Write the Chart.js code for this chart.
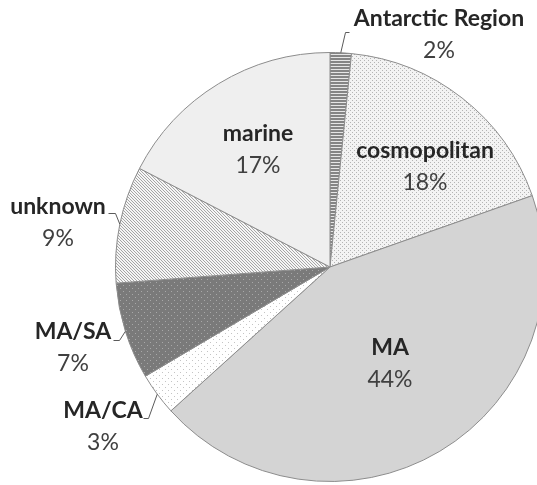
<!DOCTYPE html>
<html>
<head>
<meta charset="utf-8">
<script src="https://cdn.jsdelivr.net/npm/chart.js@4"></script>
<style>
  html, body { margin: 0; padding: 0; background: #fff; overflow: hidden; }
  #wrap { width: 537px; height: 485px; overflow: hidden; }
</style>
</head>
<body>
<div id="wrap"><canvas id="pie" width="560" height="485"></canvas></div>
<script>
// slices, clockwise from 12 o'clock
const categories = ["Antarctic Region", "cosmopolitan", "MA", "MA/CA", "MA/SA", "unknown", "marine"]
const shares = [1.6, 18.0, 43.7, 3.2, 7.3, 8.8, 17.4]

// where each label sits (text centre x, name baseline y) and whether it needs a leader line
const labelSpots = [
  { x: 439, y: 26, leader: [[345, 32], [349, 32]] },
  { x: 425, y: 158 },
  { x: 390, y: 355 },
  { x: 103, y: 418, leader: [[148, 418], [143, 418]] },
  { x: 73, y: 339, leader: [[119, 340], [113, 340]] },
  { x: 58, y: 214, leader: [[115, 213], [108, 213]] },
  { x: 258, y: 141 },
]

function makePattern(size, draw) {
  const c = document.createElement("canvas")
  c.width = size
  c.height = size
  const g = c.getContext("2d")
  draw(g, size)
  return c.getContext("2d").createPattern(c, "repeat")
}

const ctx = document.getElementById("pie").getContext("2d")

const fills = [
  // horizontal stripes
  makePattern(3, (g) => {
    g.fillStyle = "#e6e6e6"
    g.fillRect(0, 0, 3, 3)
    g.fillStyle = "#858585"
    g.fillRect(0, 1, 3, 2)
  }),
  // light dots
  makePattern(4, (g) => {
    g.fillStyle = "#f3f3f3"
    g.fillRect(0, 0, 4, 4)
    g.fillStyle = "#b4b4b4"
    g.fillRect(0, 0, 1, 1)
    g.fillRect(2, 2, 1, 1)
  }),
  "#d4d4d4",
  // sparse dots on white
  makePattern(6, (g) => {
    g.fillStyle = "#ffffff"
    g.fillRect(0, 0, 6, 6)
    g.fillStyle = "#c4c4c4"
    g.fillRect(0, 0, 1, 1)
    g.fillRect(3, 3, 1, 1)
  }),
  // dark with light dots
  makePattern(6, (g) => {
    g.fillStyle = "#7a7a7a"
    g.fillRect(0, 0, 6, 6)
    g.fillStyle = "#a8a8a8"
    g.fillRect(0, 0, 1, 1)
    g.fillRect(3, 3, 1, 1)
  }),
  // diagonal hatch
  makePattern(3, (g) => {
    g.fillStyle = "#f6f6f6"
    g.fillRect(0, 0, 3, 3)
    g.fillStyle = "#a6a6a6"
    for (let i = 0; i < 3; i++) g.fillRect(i, i, 1, 1)
  }),
  "#efefef",
]

const labelPlugin = {
  id: "pieLabels",
  afterDraw(chart) {
    const c = chart.ctx
    const arcs = chart.getDatasetMeta(0).data
    c.save()
    c.textAlign = "center"
    c.textBaseline = "alphabetic"
    categories.forEach((name, i) => {
      const spot = labelSpots[i]
      if (spot.leader) {
        const a = arcs[i]
        const mid = (a.startAngle + a.endAngle) / 2
        const px = a.x + Math.cos(mid) * a.outerRadius
        const py = a.y + Math.sin(mid) * a.outerRadius
        c.strokeStyle = "#5a5a5a"
        c.lineWidth = 1
        c.beginPath()
        c.moveTo(px, py)
        spot.leader.forEach((p) => c.lineTo(p[0] + 0.5, p[1] + 0.5))
        c.stroke()
      }
      c.fillStyle = "#262626"
      c.font = "bold 23px Lato"
      c.fillText(name, spot.x, spot.y)
      c.fillStyle = "#404040"
      c.font = "23px Lato"
      c.fillText(Math.round(shares[i]) + "%", spot.x, spot.y + 32)
    })
    c.restore()
  },
}

new Chart(ctx, {
  type: "pie",
  data: {
    labels: categories,
    datasets: [
      {
        data: shares,
        backgroundColor: fills,
        borderColor: "#8c8c8c",
        borderWidth: 1,
        hoverOffset: 0,
      },
    ],
  },
  options: {
    responsive: false,
    animation: false,
    layout: {
      padding: { left: 115, right: 15, top: 52, bottom: 3 },
    },
    plugins: {
      legend: { display: false },
      tooltip: { enabled: false },
    },
  },
  plugins: [labelPlugin],
})
</script>
</body>
</html>
